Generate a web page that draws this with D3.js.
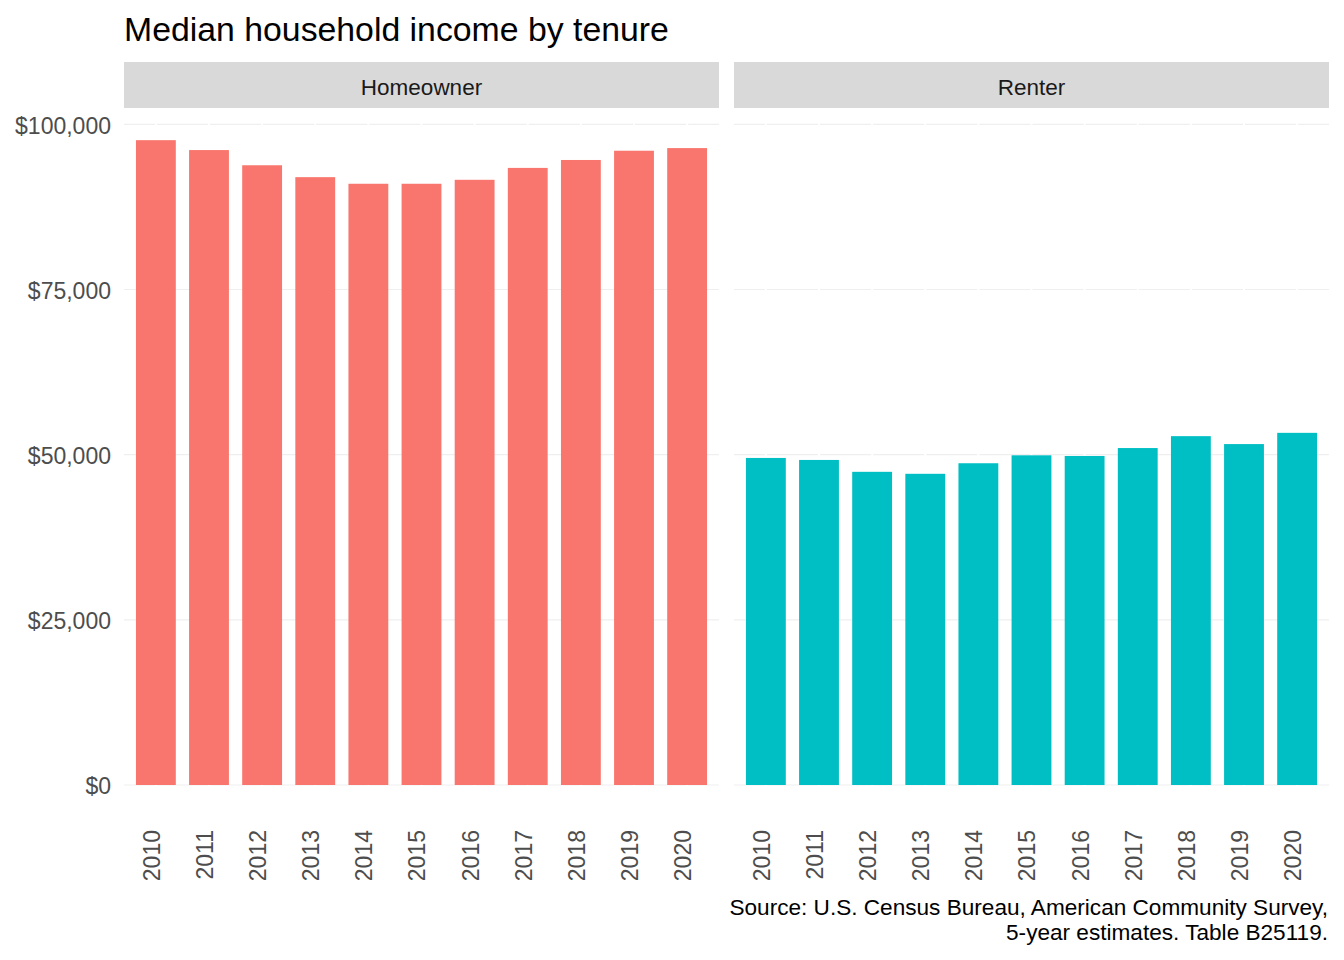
<!DOCTYPE html>
<html>
<head>
<meta charset="utf-8">
<script src="https://cdn.jsdelivr.net/npm/d3@7"></script>
<style>
  body { margin: 0; background: #fff; }
  text { font-family: "Liberation Sans", Arial, sans-serif; }
</style>
</head>
<body>
<svg id="chart"></svg>
<script>
// data
const years = ["2010", "2011", "2012", "2013", "2014", "2015", "2016", "2017", "2018", "2019", "2020"];
const homeowner = [97600, 96100, 93800, 92000, 91000, 91000, 91600, 93400, 94600, 96000, 96400];
const renter = [49500, 49200, 47400, 47100, 48700, 49900, 49800, 51000, 52800, 51600, 53300];
const tenures = ["Homeowner", "Renter"];
const fills = ["#F8766D", "#00BFC4"];
const yTicks = [0, 25000, 50000, 75000, 100000];

const svgWidth = 1344;
const svgHeight = 960;

const svg = d3.select("#chart")
  .attr("width", svgWidth)
  .attr("height", svgHeight);

//PANEL LAYOUT
const panels = [
  { name: tenures[0], values: homeowner, fill: fills[0], x0: 124, x1: 719 },
  { name: tenures[1], values: renter, fill: fills[1], x0: 734, x1: 1329 }
];
const stripTop = 62, stripBottom = 108, panelBottom = 817;

// y scale shared by both facets
const y = d3.scaleLinear().domain([0, 100000]).range([785, 124.3]);
const fmt = v => "$" + d3.format(",")(v);

//TITLE
svg.append("text")
  .attr("x", 124)
  .attr("y", 41)
  .style("font-size", "33.8px")
  .style("fill", "#000")
  .text("Median household income by tenure");

//Y AXIS LABELS
svg.append("g")
  .selectAll("text")
  .data(yTicks)
  .enter()
  .append("text")
  .attr("x", 111)
  .attr("y", d => y(d))
  .attr("dy", "0.4em")
  .attr("text-anchor", "end")
  .style("font-size", "23px")
  .style("fill", "#4D4D4D")
  .text(fmt);

panels.forEach(function(p) {
  const x = d3.scalePoint()
    .domain(years)
    .range([p.x0, p.x1])
    .padding(0.6);
  const barW = x.step() * 0.75;

  const g = svg.append("g");

  //STRIP
  g.append("rect")
    .attr("x", p.x0)
    .attr("y", stripTop)
    .attr("width", p.x1 - p.x0)
    .attr("height", stripBottom - stripTop)
    .attr("fill", "#D9D9D9");
  g.append("text")
    .attr("x", (p.x0 + p.x1) / 2)
    .attr("y", (stripTop + stripBottom) / 2 + 1.5)
    .attr("dy", "0.36em")
    .attr("text-anchor", "middle")
    .style("font-size", "22.5px")
    .style("fill", "#1A1A1A")
    .text(p.name);

  //GRIDLINES
  g.append("g")
    .selectAll("line")
    .data(yTicks)
    .enter()
    .append("line")
    .attr("x1", p.x0)
    .attr("x2", p.x1)
    .attr("y1", d => y(d))
    .attr("y2", d => y(d))
    .attr("stroke", "#EFEFEF")
    .attr("stroke-width", 1.2);
  g.append("g")
    .selectAll("line")
    .data(years)
    .enter()
    .append("line")
    .attr("x1", d => x(d))
    .attr("x2", d => x(d))
    .attr("y1", stripBottom)
    .attr("y2", panelBottom)
    .attr("stroke", "#fff")
    .attr("stroke-width", 2);

  //BARS
  g.append("g")
    .selectAll("rect")
    .data(p.values)
    .enter()
    .append("rect")
    .attr("x", (d, i) => x(years[i]) - barW / 2)
    .attr("y", d => y(d))
    .attr("width", barW)
    .attr("height", d => y(0) - y(d))
    .attr("fill", p.fill);

  //X AXIS LABELS
  g.append("g")
    .selectAll("text")
    .data(years)
    .enter()
    .append("text")
    .attr("transform", d => "translate(" + x(d) + ",830) rotate(-90)")
    .attr("dy", "0.17em")
    .attr("text-anchor", "end")
    .style("font-size", "23px")
    .style("fill", "#4D4D4D")
    .text(d => d);
});

//CAPTION
const caption = svg.append("text")
  .attr("text-anchor", "end")
  .style("font-size", "22.6px")
  .style("fill", "#000");
caption.append("tspan")
  .attr("x", 1328)
  .attr("y", 915)
  .text("Source: U.S. Census Bureau, American Community Survey,");
caption.append("tspan")
  .attr("x", 1328)
  .attr("y", 940)
  .text("5-year estimates. Table B25119.");
</script>
</body>
</html>
